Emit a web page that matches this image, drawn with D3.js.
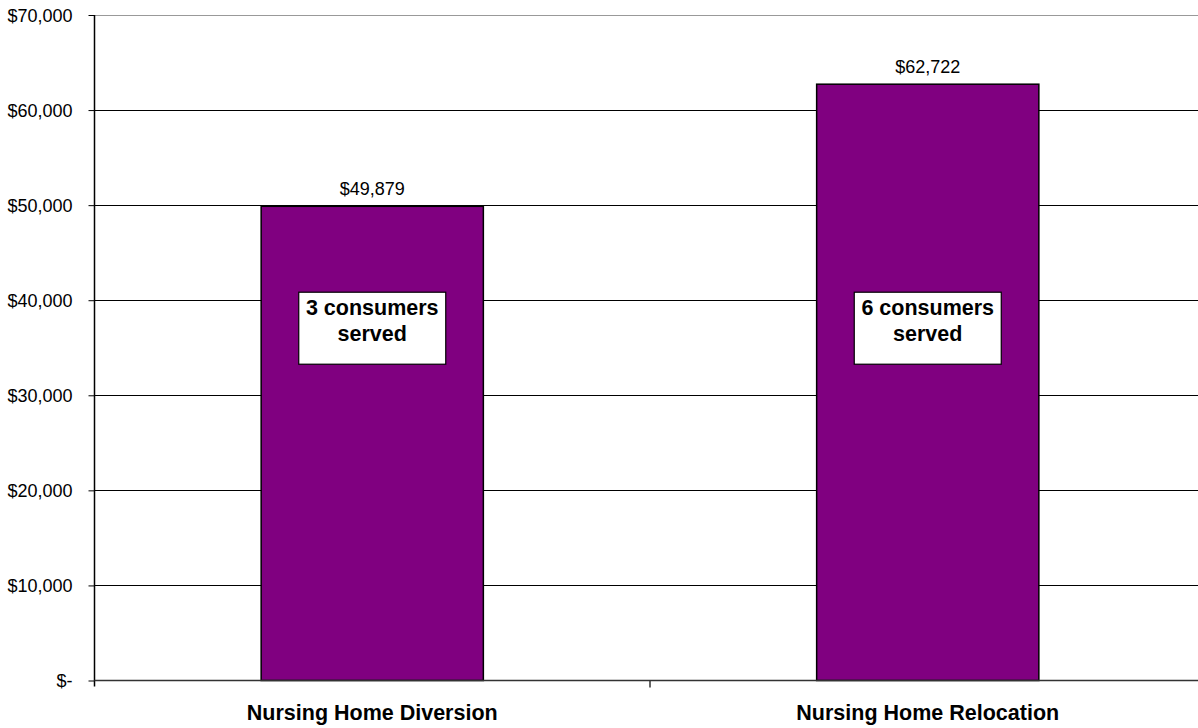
<!DOCTYPE html>
<html>
<head>
<meta charset="utf-8">
<script src="https://cdn.jsdelivr.net/npm/d3@7"></script>
<style>
  html, body { margin: 0; padding: 0; background: #fff; }
  svg { display: block; font-family: "Liberation Sans", Arial, sans-serif; }
</style>
</head>
<body>
<svg id="chart" width="1198" height="728"></svg>
<script>
// Cost per program, with a note on how many consumers each served
const categories = ["Nursing Home Diversion", "Nursing Home Relocation"];
const costs = [49879, 62722];
const notes = [["3 consumers", "served"], ["6 consumers", "served"]];
const yTicks = [0, 10000, 20000, 30000, 40000, 50000, 60000, 70000];

const svg = d3.select("#chart");
const plotLeft = 94.5, plotRight = 1205.5, plotTop = 15, plotBottom = 680.5;

const x = d3.scaleBand()
  .domain(categories)
  .range([plotLeft, plotRight])
  .paddingInner(0.6)
  .paddingOuter(0.3);

const y = d3.scaleLinear()
  .domain([0, 70000])
  .range([plotBottom, plotTop]);

const money = d3.format(",");
const fmt = v => v === 0 ? "$-" : "$" + money(v);

// horizontal gridlines
svg.append("g")
  .selectAll("line")
  .data(yTicks.filter(v => v > 0))
  .join("line")
  .attr("x1", plotLeft).attr("x2", plotRight)
  .attr("y1", d => Math.round(y(d)) + 0.5)
  .attr("y2", d => Math.round(y(d)) + 0.5)
  .attr("stroke", d => d === 70000 ? "#999" : "#000")
  .attr("stroke-width", 1);

// y axis
const yAxis = svg.append("g")
  .attr("transform", `translate(${plotLeft},0)`)
  .call(d3.axisLeft(y).tickValues(yTicks).tickFormat(fmt).tickSize(6).tickPadding(16));
yAxis.select(".domain").remove();
yAxis.selectAll(".tick line").attr("stroke", "#000");
yAxis.selectAll(".tick text")
  .attr("fill", "#000")
  .attr("font-size", "18px")
  .attr("font-family", "Liberation Sans, Arial, sans-serif")
  .attr("dy", "0.36em");

// bars
svg.append("g")
  .selectAll("rect")
  .data(categories)
  .join("rect")
  .attr("x", d => x(d))
  .attr("width", x.bandwidth())
  .attr("y", (d, i) => y(costs[i]))
  .attr("height", (d, i) => y(0) - y(costs[i]))
  .attr("fill", "#800080")
  .attr("stroke", "#000")
  .attr("stroke-width", 1.5);

// vertical axis line
svg.append("line")
  .attr("x1", plotLeft).attr("x2", plotLeft)
  .attr("y1", plotTop).attr("y2", plotBottom + 6)
  .attr("stroke", "#000").attr("stroke-width", 1.5);

// category axis with ticks between categories
svg.append("line")
  .attr("x1", plotLeft).attr("x2", plotRight)
  .attr("y1", plotBottom).attr("y2", plotBottom)
  .attr("stroke", "#333").attr("stroke-width", 1.5);
svg.append("g")
  .selectAll("line")
  .data(d3.range(1, categories.length))
  .join("line")
  .attr("x1", i => x(categories[i]) - x.step() * x.paddingInner() / 2)
  .attr("x2", i => x(categories[i]) - x.step() * x.paddingInner() / 2)
  .attr("y1", plotBottom).attr("y2", plotBottom + 7)
  .attr("stroke", "#333").attr("stroke-width", 1.5);

// category labels
svg.append("g")
  .selectAll("text")
  .data(categories)
  .join("text")
  .attr("x", d => x(d) + x.bandwidth() / 2)
  .attr("y", 720)
  .attr("text-anchor", "middle")
  .attr("font-size", "21.5px")
  .attr("font-weight", "bold")
  .attr("fill", "#000")
  .text(d => d);

// value labels above bars
svg.append("g")
  .selectAll("text")
  .data(categories)
  .join("text")
  .attr("x", d => x(d) + x.bandwidth() / 2)
  .attr("y", (d, i) => y(costs[i]) - 11)
  .attr("text-anchor", "middle")
  .attr("font-size", "18px")
  .attr("fill", "#000")
  .text((d, i) => fmt(costs[i]));

// note boxes inside bars
const boxW = 147, boxH = 72;
const boxTop = y(40000) - 8;
const notesG = svg.append("g")
  .selectAll("g")
  .data(categories)
  .join("g")
  .attr("transform", d => `translate(${x(d) + x.bandwidth() / 2},${boxTop})`);
notesG.append("rect")
  .attr("x", -boxW / 2).attr("y", 0)
  .attr("width", boxW).attr("height", boxH)
  .attr("fill", "#fff").attr("stroke", "#000").attr("stroke-width", 1.2);
notesG.each(function(d, i) {
  const t = d3.select(this).append("text")
    .attr("text-anchor", "middle")
    .attr("font-size", "21.5px")
    .attr("font-weight", "bold")
    .attr("fill", "#000");
  notes[i].forEach((line, k) => {
    t.append("tspan").attr("x", 0).attr("y", 23 + k * 26).text(line);
  });
});
</script>
</body>
</html>
